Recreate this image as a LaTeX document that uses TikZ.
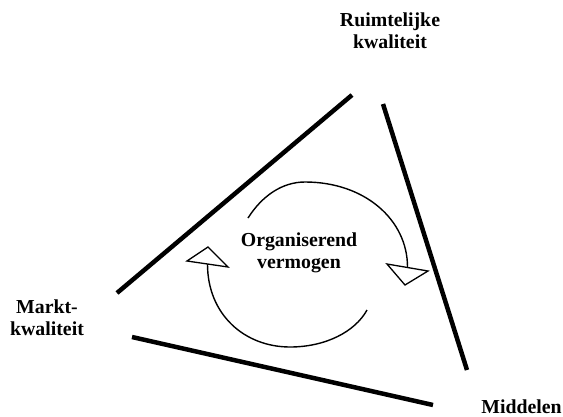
\documentclass[tikz,border=0pt]{standalone}
\usepackage{fontspec}
\setmainfont{Liberation Serif}
\begin{document}
\begin{tikzpicture}[x=1pt,y=-1pt,
  side/.style={line width=4.5pt},
  cyc/.style={line width=1.4pt},
  tip/.style={line width=1.3pt, fill=white, line join=miter},
  lbl/.style={font=\fontsize{19.8}{22}\selectfont\bfseries, align=center, anchor=base, inner sep=0pt}]
\useasboundingbox (0,0) rectangle (563,416);
% sides of the triangle
\coordinate (L1) at (117,293);
\coordinate (L2) at (352,95);
\coordinate (R1) at (383,104);
\coordinate (R2) at (467,370);
\coordinate (B1) at (132,337);
\coordinate (B2) at (433,405);
\draw[side] (L1) -- (L2);
\draw[side] (R1) -- (R2);
\draw[side] (B1) -- (B2);
% cycle arrows
\coordinate (U0) at (248,218);
\coordinate (U1) at (305,182);
\coordinate (U2) at (407.5,267);
\coordinate (D0) at (207.5,264);
\coordinate (D1) at (290,347);
\coordinate (D2) at (367,310);
\draw[cyc] (U0) .. controls (262,196) and (282,182) .. (U1)
                .. controls (365,182) and (407.5,220) .. (U2);
\draw[cyc] (D2) .. controls (355,332) and (325,347) .. (D1)
                .. controls (245,347) and (207.5,315) .. (D0);
\draw[tip] (187,261) -- (208,247) -- (228,267) -- cycle;
\draw[tip] (387,264) -- (428,271) -- (405,285) -- cycle;
% labels (anchor = baseline of the last line)
\node[lbl] (ruimte) at (390,48) {Ruimtelijke\\kwaliteit};
\node[lbl] (markt) at (47,335) {Markt-\\kwaliteit};
\node[lbl] (middel) at (521.5,413) {Middelen};
\node[lbl] (org) at (299,268) {Organiserend\\vermogen};
\end{tikzpicture}
\end{document}
